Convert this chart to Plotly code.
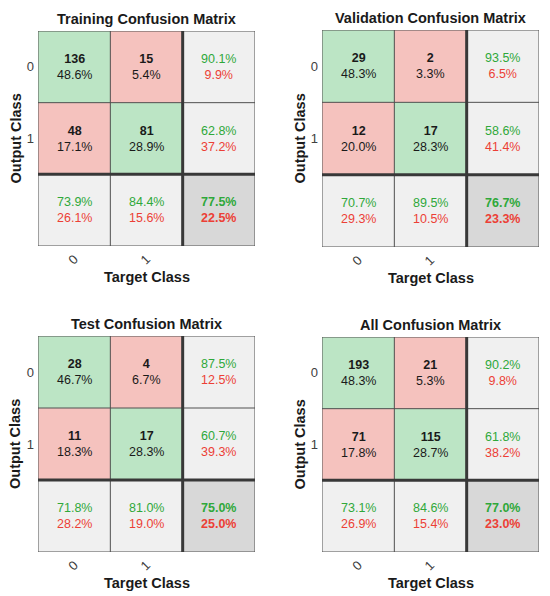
"""MATLAB-style confusion matrices (training / validation / test / all) in Plotly."""
import plotly.graph_objects as go

# ---------------------------------------------------------------------------
# Data
# ---------------------------------------------------------------------------
panel_titles = [
    "Training Confusion Matrix",
    "Validation Confusion Matrix",
    "Test Confusion Matrix",
    "All Confusion Matrix",
]
class_labels = ["0", "1"]

# counts[panel] = [[out0/tgt0, out0/tgt1], [out1/tgt0, out1/tgt1]]
counts = [
    [[136, 15], [48, 81]],
    [[29, 2], [12, 17]],
    [[28, 4], [11, 17]],
    [[193, 21], [71, 115]],
]
cell_pct = [
    [[48.6, 5.4], [17.1, 28.9]],
    [[48.3, 3.3], [20.0, 28.3]],
    [[46.7, 6.7], [18.3, 28.3]],
    [[48.3, 5.3], [17.8, 28.7]],
]
# right column (per output class): correct / wrong
row_correct = [[90.1, 62.8], [93.5, 58.6], [87.5, 60.7], [90.2, 61.8]]
row_wrong = [[9.9, 37.2], [6.5, 41.4], [12.5, 39.3], [9.8, 38.2]]
# bottom row (per target class): correct / wrong
col_correct = [[73.9, 84.4], [70.7, 89.5], [71.8, 81.0], [73.1, 84.6]]
col_wrong = [[26.1, 15.6], [29.3, 10.5], [28.2, 19.0], [26.9, 15.4]]
# overall accuracy / error
overall_correct = [77.5, 76.7, 75.0, 77.0]
overall_wrong = [22.5, 23.3, 25.0, 23.0]

# ---------------------------------------------------------------------------
# Style
# ---------------------------------------------------------------------------
_FONT = "Liberation Sans, Arial, sans-serif"
_GREEN_CELL = "#bce5c5"
_RED_CELL = "#f5c2be"
_GRAY_CELL = "#f0f0f0"
_DARK_CELL = "#d8d8d8"
_GREEN_TEXT = "#2fa83a"
_RED_TEXT = "#ec3f36"
_THIN_LINE = "#505050"
_THICK_LINE = "#383838"

# cell category: 0 correct, 1 wrong, 2 summary, 3 overall
_cell_kind = [[0, 1, 2], [1, 0, 2], [2, 2, 3]]
_colorscale = [
    [0.0, _GREEN_CELL], [1 / 3, _RED_CELL], [2 / 3, _GRAY_CELL], [1.0, _DARK_CELL],
]

# page body adds an 8px offset, so the figure is drawn 8px smaller
_W, _H = 542, 588
# panel boxes in figure pixels: (left, right, top, bottom)
_boxes = [(30, 247, 23, 238), (314, 531, 22, 239), (30, 247, 328, 544), (314, 531, 329, 544)]
_x_domains = [[l / _W, r / _W] for l, r, t, b in _boxes]
_y_domains = [[1 - b / _H, 1 - t / _H] for l, r, t, b in _boxes]


def _pair(good, bad, bold=False):
    g = f"{good:.1f}%"
    b = f"{bad:.1f}%"
    if bold:
        g, b = f"<b>{g}</b>", f"<b>{b}</b>"
    return (
        f"<span style='color:{_GREEN_TEXT}'>{g}</span><br>"
        f"<span style='color:{_RED_TEXT}'>{b}</span>"
    )


fig = go.Figure()
annotations = []
shapes = []

for p in range(4):
    ax = "" if p == 0 else str(p + 1)
    xref, yref = f"x{ax}", f"y{ax}"

    fig.add_trace(
        go.Heatmap(
            z=_cell_kind,
            x=[0, 1, 2],
            y=[0, 1, 2],
            zmin=0,
            zmax=3,
            colorscale=_colorscale,
            showscale=False,
            hoverinfo="skip",
            xaxis=xref,
            yaxis=yref,
        )
    )

    cell = dict(xref=xref, yref=yref, showarrow=False,
                xanchor="center", yanchor="middle")
    # cell texts
    for r in range(2):
        for c in range(2):
            annotations.append(dict(
                x=c, y=r, **cell,
                text=f"<b>{counts[p][r][c]}</b><br>{cell_pct[p][r][c]:.1f}%",
                font=dict(size=12.5, color="#1a1a1a", family=_FONT),
            ))
        annotations.append(dict(
            x=2, y=r, **cell,
            text=_pair(row_correct[p][r], row_wrong[p][r]),
            font=dict(size=12.5, family=_FONT),
        ))
    for c in range(2):
        annotations.append(dict(
            x=c, y=2, **cell,
            text=_pair(col_correct[p][c], col_wrong[p][c]),
            font=dict(size=12.5, family=_FONT),
        ))
    annotations.append(dict(
        x=2, y=2, **cell,
        text=_pair(overall_correct[p], overall_wrong[p], bold=True),
        font=dict(size=12.5, family=_FONT),
    ))

    # titles
    dom = dict(xref=f"{xref} domain", yref=f"{yref} domain", showarrow=False,
               xanchor="center", yanchor="middle")
    label_font = dict(size=14.5, color="#1a1a1a", family=_FONT)
    annotations.append(dict(
        x=0.5, y=1, yshift=12, text=f"<b>{panel_titles[p]}</b>",
        font=label_font, **dom,
    ))
    annotations.append(dict(
        x=0, y=0.5, xshift=-23, textangle=-90, text="<b>Output Class</b>",
        font=label_font, **dom,
    ))
    annotations.append(dict(
        x=0.5, y=0, yshift=-31, text="<b>Target Class</b>",
        font=label_font, **dom,
    ))

    # grid lines
    for v in [-0.5, 0.5, 2.5]:
        shapes.append(dict(type="line", xref=xref, yref=yref, x0=v, x1=v,
                           y0=-0.5, y1=2.5, line=dict(color=_THIN_LINE, width=1)))
        shapes.append(dict(type="line", xref=xref, yref=yref, y0=v, y1=v,
                           x0=-0.5, x1=2.5, line=dict(color=_THIN_LINE, width=1)))
    shapes.append(dict(type="line", xref=xref, yref=yref, x0=1.5, x1=1.5,
                       y0=-0.5, y1=2.5, line=dict(color=_THICK_LINE, width=3)))
    shapes.append(dict(type="line", xref=xref, yref=yref, y0=1.5, y1=1.5,
                       x0=-0.5, x1=2.5, line=dict(color=_THICK_LINE, width=3)))

    axis_common = dict(showgrid=False, zeroline=False, showline=False,
                       ticks="", tickfont=dict(size=13, color="#404040", family=_FONT))
    fig.update_layout({
        f"xaxis{ax}": dict(
            domain=_x_domains[p], range=[-0.5, 2.5], anchor=yref,
            tickvals=[0, 1], ticktext=class_labels, tickangle=-45,
            ticklabelstandoff=2,
            **axis_common,
        ),
        f"yaxis{ax}": dict(
            domain=_y_domains[p], range=[2.5, -0.5], anchor=xref,
            tickvals=[0, 1], ticktext=class_labels, ticklabelstandoff=3,
            **axis_common,
        ),
    })

fig.update_layout(
    width=_W,
    height=_H,
    margin=dict(l=0, r=0, t=0, b=0),
    paper_bgcolor="white",
    plot_bgcolor="white",
    font=dict(family=_FONT),
    annotations=annotations,
    shapes=shapes,
)

fig.write_html("out.html")
